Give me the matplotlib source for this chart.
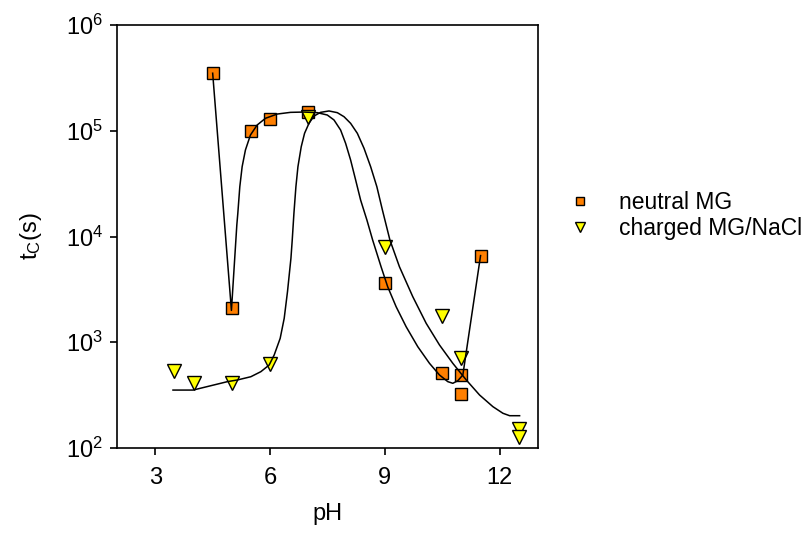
import numpy as np
import matplotlib
matplotlib.use('Agg')
import matplotlib.pyplot as plt
import matplotlib.ticker as ticker

plt.rcParams['font.family'] = ['Liberation Sans', 'DejaVu Sans']
plt.rcParams['mathtext.default'] = 'regular'

# --- measured data ---
ph_neutral = [4.5, 5.0, 5.5, 6.0, 7.0, 9.0, 10.5, 11.0, 11.0, 11.5]
tc_neutral = [3.5e5, 2100, 1.0e5, 1.3e5, 1.5e5, 3600, 510, 490, 325, 6600]

ph_charged = [3.5, 4.0, 5.0, 6.0, 7.0, 9.0, 10.5, 11.0, 12.5, 12.5]
tc_charged = [530, 415, 410, 620, 1.35e5, 7900, 1770, 710, 150, 128]

# --- guide curves ---
ph_fit_neutral = [4.5, 4.99, 5.131, 5.157, 5.209, 5.27, 5.356, 5.487, 5.662, 5.88,
                  6.186, 6.534, 6.885, 7.233, 7.495, 7.67, 7.843, 7.974, 8.105,
                  8.236, 8.366, 8.53, 8.68, 8.9, 9.073, 9.293, 9.555, 9.859,
                  10.165, 10.427, 10.644, 10.775, 10.906, 11.037, 11.5]
tc_fit_neutral = [3.5e5, 2000, 12850, 16560, 29580, 45710, 65770, 91200, 113300,
                  131200, 143900, 149300, 150300, 148300, 140900, 126500, 101600,
                  76000, 52800, 34200, 22100, 14320, 9270, 5180, 3350, 2170, 1403,
                  908, 632, 490, 424, 409, 433, 490, 6600]

ph_fit_charged = [3.463, 3.987, 4.885, 5.147, 5.497, 5.759, 5.976, 6.107, 6.264,
                  6.369, 6.455, 6.545, 6.579, 6.623, 6.675, 6.728, 6.814, 6.901,
                  7.016, 7.147, 7.319, 7.539, 7.757, 7.932, 8.105, 8.28, 8.455,
                  8.628, 8.79, 8.935, 9.131, 9.38, 9.728, 10.079, 10.427, 10.775,
                  11.126, 11.474, 11.822, 12.084, 12.259, 12.52]
tc_fit_charged = [353, 353, 424, 440, 472, 527, 609, 757, 1089, 1683, 3006, 6220,
                  9270, 16560, 29580, 45710, 70630, 94600, 117500, 137700, 149300,
                  153900, 148300, 135800, 117500, 94600, 68200, 45710, 29580,
                  17830, 9270, 5180, 2700, 1510, 942, 632, 440, 317, 246, 213,
                  202, 202]

fig = plt.figure(figsize=(8.08, 5.38), dpi=100)
ax = fig.add_axes([0.1448, 0.1673, 0.521, 0.7862])

ax.plot(ph_neutral, tc_neutral, 's', ms=8.5, mfc='#ff7f00', mec='black',
        mew=1.0, ls='none', zorder=2, label='neutral MG')
ax.plot(ph_charged, tc_charged, 'v', ms=10.5, mfc='#ffff00', mec='black',
        mew=1.0, ls='none', zorder=3, label='charged MG/NaCl')
ax.plot(ph_fit_neutral, tc_fit_neutral, 'k-', lw=1.1, zorder=4)
ax.plot(ph_fit_charged, tc_fit_charged, 'k-', lw=1.1, zorder=4)

ax.set_yscale('log')
ax.set_xlim(2, 13)
ax.set_ylim(1e2, 1e6)
ax.set_xticks([3, 6, 9, 12])
ax.yaxis.set_minor_locator(ticker.NullLocator())
ax.tick_params(direction='out', length=5, width=1.2, labelsize=17, pad=5)
ax.tick_params(axis='x', pad=9)
for spine in ax.spines.values():
    spine.set_linewidth(1.2)

ax.set_xlabel('pH', fontsize=17, labelpad=10)
ax.set_ylabel(r'$t_C$(s)', fontsize=17, labelpad=16)

leg = ax.legend(loc='center left', bbox_to_anchor=(1.023, 0.55), frameon=False,
                fontsize=16.5, markerscale=0.75, handletextpad=1.2,
                labelspacing=0.15, handlelength=1.0)

plt.savefig('out.png', dpi=100)
